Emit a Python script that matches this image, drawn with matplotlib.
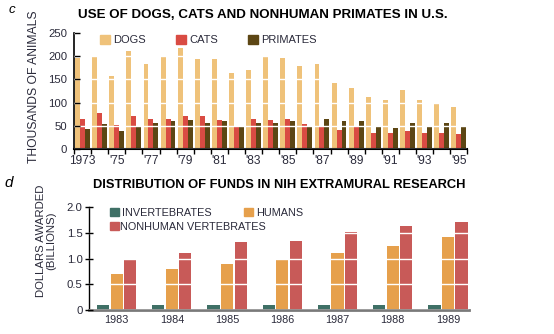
import matplotlib
matplotlib.use("Agg")
import matplotlib.pyplot as plt
import numpy as np
from matplotlib.patches import Patch

plt.rcParams['font.family'] = ['Liberation Sans', 'DejaVu Sans']

# Data, panel c
years = list(range(1973, 1996))
year_labels = ["1973", "'75", "'77", "'79", "'81", "'83", "'85", "'87", "'89", "'91", "'93", "'95"]
dogs = [196, 201, 157, 211, 182, 201, 218, 193, 193, 164, 171, 201,
        196, 179, 182, 143, 131, 112, 106, 127, 106, 100, 91]
cats = [66, 77, 53, 72, 64, 66, 72, 72, 62, 50, 64, 62,
        64, 55, 50, 42, 50, 34, 34, 40, 34, 34, 32]
primates = [43, 54, 39, 50, 56, 60, 62, 57, 60, 50, 57, 57,
            60, 50, 64, 60, 60, 50, 45, 57, 50, 57, 50]

# Data, panel d
fund_years = ["1983", "1984", "1985", "1986", "1987", "1988", "1989"]
invertebrates = [0.1, 0.1, 0.1, 0.1, 0.1, 0.1, 0.1]
humans = [0.71, 0.80, 0.90, 0.98, 1.11, 1.25, 1.42]
nonhuman_vert = [1.0, 1.11, 1.32, 1.34, 1.52, 1.63, 1.72]

c_dog, c_cat, c_pri = "#efc27a", "#d94b43", "#5c4614"
c_inv, c_hum, c_nhv = "#3f7066", "#e6a04c", "#c85a58"
txt = "#2a2a3a"

fig = plt.figure(figsize=(5.54, 3.34), dpi=100)

# ---------- panel c ----------
ax1 = fig.add_axes([0.1336, 0.553, 0.7099, 0.349])
x = np.arange(len(years))
w = 0.29
ax1.bar(x - w, dogs, w, color=c_dog, zorder=1)
ax1.bar(x, cats, w, color=c_cat, zorder=1)
ax1.bar(x + w, primates, w, color=c_pri, zorder=1)
ax1.set_xlim(-0.5, len(years) - 0.5)
ax1.set_ylim(0, 250)
ax1.set_yticks([0, 50, 100, 150, 200, 250])
ax1.yaxis.grid(True, color="white", lw=1.0)
ax1.set_axisbelow(False)
ax1.set_xticks(np.arange(len(years) + 1) - 0.5)
ax1.set_xticklabels([])
ax1.set_xticks(x[::2], minor=True)
ax1.set_xticklabels(year_labels, minor=True)
ax1.tick_params(axis="x", which="major", direction="out", length=3.5, width=1, color="black")
ax1.tick_params(axis="x", which="minor", length=0, pad=4, labelsize=8.6, labelcolor=txt)
ax1.tick_params(axis="y", direction="in", length=4, width=1, pad=5, labelsize=8.2, labelcolor=txt)
for s in ["top", "right"]:
    ax1.spines[s].set_visible(False)
ax1.spines["left"].set_linewidth(1.2)
ax1.spines["bottom"].set_linewidth(1.5)
ax1.set_ylabel("THOUSANDS OF ANIMALS", fontsize=8.7, color=txt)
ax1.yaxis.set_label_coords(-0.0865, 0.539)
ax1.legend(handles=[Patch(color=c_dog, label="DOGS"), Patch(color=c_cat, label="CATS"),
                    Patch(color=c_pri, label="PRIMATES")],
           ncol=3, frameon=False, loc="center left", bbox_to_anchor=(0.066, 0.937),
           fontsize=8, handlelength=0.9, handleheight=0.9, handletextpad=0.27,
           columnspacing=2.75, labelcolor=txt, borderaxespad=0, borderpad=0)
fig.text(0.474, 0.955, "USE OF DOGS, CATS AND NONHUMAN PRIMATES IN U.S.",
         ha="center", va="center", fontsize=9.65, fontweight="bold", color="black")
fig.text(0.022, 0.97, "c", fontsize=9.5, style="italic", ha="center", va="center")

# ---------- panel d ----------
ax2 = fig.add_axes([0.1606, 0.0719, 0.686, 0.3074])
xd = np.arange(len(fund_years))
wd = 0.22
off = 0.245
ax2.bar(xd - off, invertebrates, wd, color=c_inv, zorder=1)
ax2.bar(xd, humans, wd, color=c_hum, zorder=1)
ax2.bar(xd + off, nonhuman_vert, wd, color=c_nhv, zorder=1)
ax2.set_xlim(-0.5, len(fund_years) - 0.62)
ax2.set_ylim(0, 2.0)
ax2.set_yticks([0, 0.5, 1.0, 1.5, 2.0])
ax2.set_yticklabels(["0", "0.5", "1.0", "1.5", "2.0"])
ax2.yaxis.grid(True, color="white", lw=1.0)
ax2.set_axisbelow(False)
ax2.set_xticks(xd)
ax2.set_xticklabels(fund_years)
ax2.tick_params(axis="x", length=0, pad=3.5, labelsize=7.8, labelcolor=txt)
ax2.tick_params(axis="y", direction="inout", length=6, width=1, pad=1.5, labelsize=8.2, labelcolor=txt)
for s in ["top", "right"]:
    ax2.spines[s].set_visible(False)
ax2.spines["left"].set_linewidth(1.0)
ax2.spines["bottom"].set_color("#7a7a7a")
ax2.spines["bottom"].set_linewidth(2.0)
ax2.set_ylabel("DOLLARS AWARDED\n(BILLIONS)", fontsize=8.2, color=txt, linespacing=1.0)
ax2.yaxis.set_label_coords(-0.087, 0.677)
leg1 = ax2.legend(handles=[Patch(color=c_inv, label="INVERTEBRATES"),
                           Patch(color=c_hum, label="HUMANS")],
                  ncol=2, frameon=False, loc="center left", bbox_to_anchor=(0.055, 0.947),
                  fontsize=7.8, handlelength=0.85, handleheight=0.85, handletextpad=0.28,
                  columnspacing=2.95, labelcolor=txt, borderaxespad=0, borderpad=0)
ax2.add_artist(leg1)
ax2.legend(handles=[Patch(color=c_nhv, label="NONHUMAN VERTEBRATES")],
           frameon=False, loc="center left", bbox_to_anchor=(0.055, 0.811),
           fontsize=7.8, handlelength=0.85, handleheight=0.85, handletextpad=0.12,
           labelcolor=txt, borderaxespad=0, borderpad=0)
fig.text(0.5045, 0.446, "DISTRIBUTION OF FUNDS IN NIH EXTRAMURAL RESEARCH",
         ha="center", va="center", fontsize=9.3, fontweight="bold", color="black")
fig.text(0.016, 0.452, "d", fontsize=11, style="italic", ha="center", va="center")

fig.savefig("out.png", dpi=100)
